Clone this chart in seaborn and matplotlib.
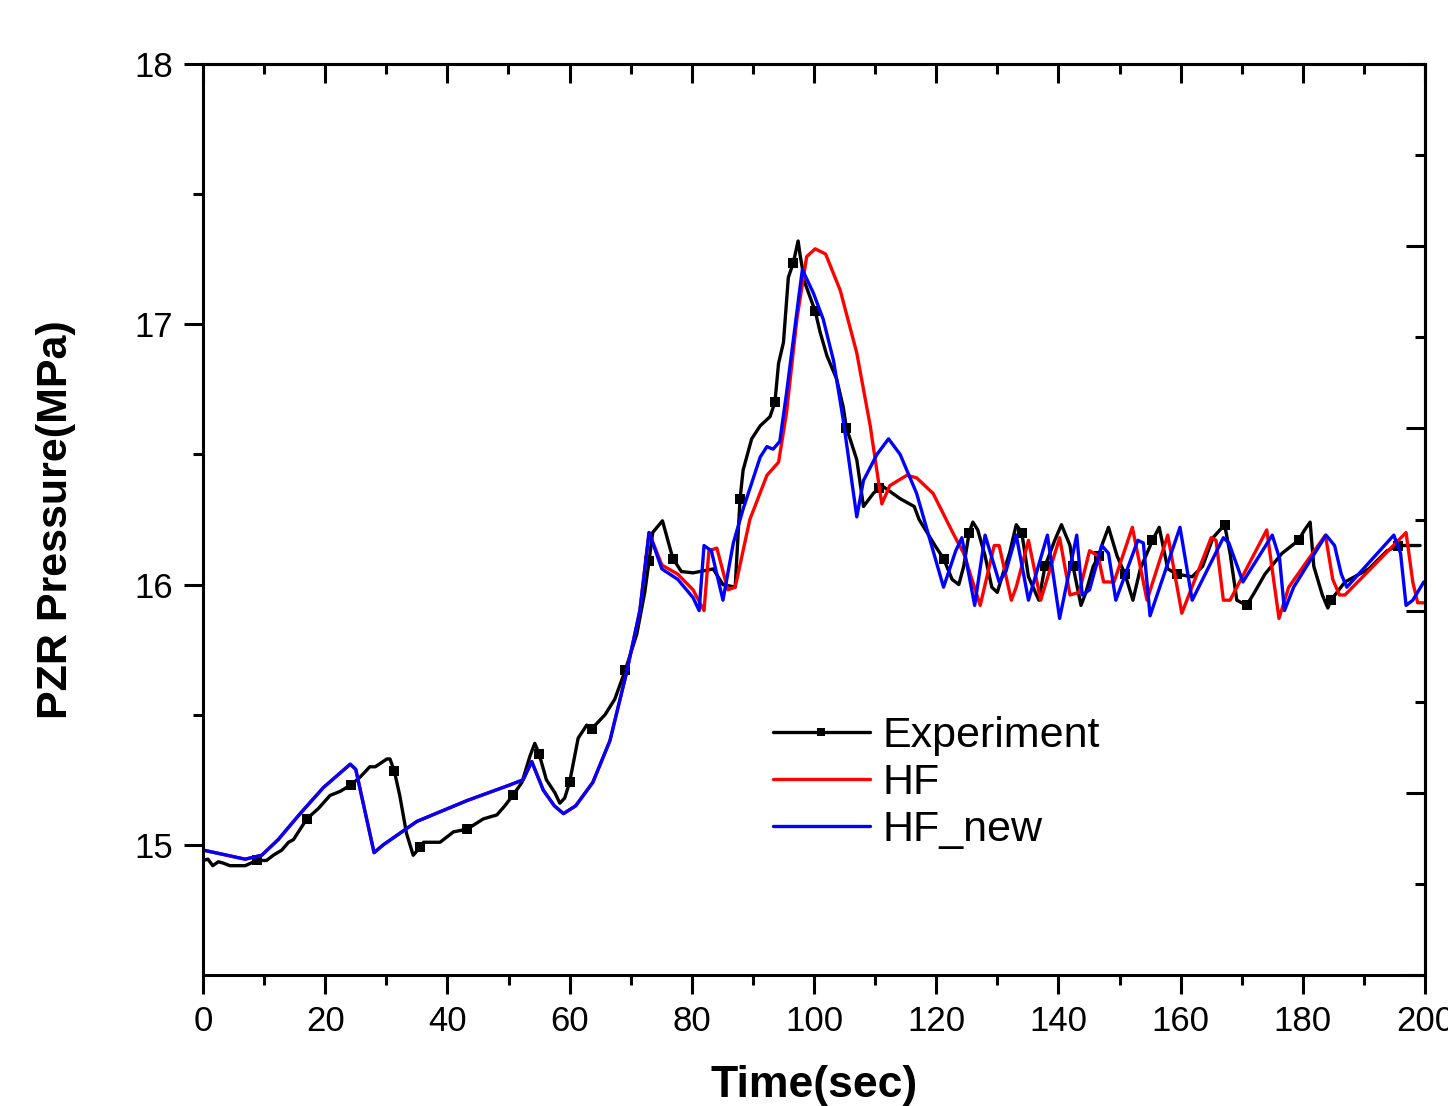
import numpy as np
import pandas as pd
import seaborn as sns
import matplotlib.pyplot as plt
from matplotlib.ticker import MultipleLocator, FixedLocator

# experiment data (time s, pressure MPa)
exp_t = [0, 0.8, 1.6, 2.5, 3.3, 4.4, 6.9, 8.8, 10.4, 11.5, 12.9, 14.0, 14.8, 15.9, 17.0, 18.9,
         20.8, 22.4, 24.2, 25.7, 27.3, 28.2, 30.1, 30.6, 31.3, 32.2, 33.3, 34.4, 35.5, 36.1,
         38.8, 41.0, 43.2, 45.9, 48.1, 49.4, 50.7, 52.2, 53.5, 54.3, 55.0, 56.2, 57.6, 58.4,
         59.2, 60.0, 61.4, 62.8, 63.6, 65.8, 67.4, 69.1, 71.0, 72.3, 73.0, 73.6, 75.2, 76.9,
         78.3, 80.2, 83.5, 85.1, 87.1, 87.9, 88.4, 89.8, 91.2, 92.8, 93.6, 94.2, 95.0, 95.8,
         96.6, 97.4, 97.7, 98.5, 100.2, 101.0, 102.1, 103.7, 104.8, 105.3, 105.9, 107.0, 108.1,
         109.7, 110.6, 111.1, 114.1, 116.4, 117.2, 119.8, 121.2, 122.6, 123.7, 124.5, 125.4,
         126.0, 126.8, 128.0, 129.1, 130.0, 130.9, 132.0, 133.1, 134.0, 135.1, 136.8, 137.8,
         139.4, 140.5, 141.9, 142.4, 143.7, 144.5, 145.7, 146.6, 147.1, 148.2, 149.6, 150.9,
         152.2, 153.4, 155.4, 156.5, 157.9, 159.4, 161.9, 163.6, 165.3, 167.2, 168.1, 169.2,
         170.8, 172.1, 173.8, 176.6, 179.3, 180.3, 181.2, 181.8, 183.2, 184.1, 184.6, 186.9,
         190.8, 193.8, 195.6, 199.2]
exp_p = [14.94, 14.945, 14.92, 14.935, 14.93, 14.92, 14.92, 14.94, 14.94, 14.96, 14.98, 15.01,
         15.02, 15.06, 15.10, 15.14, 15.19, 15.205, 15.23, 15.26, 15.30, 15.30, 15.33, 15.33,
         15.285, 15.19, 15.045, 14.96, 14.99, 15.01, 15.01, 15.05, 15.06, 15.10, 15.115, 15.15,
         15.19, 15.24, 15.34, 15.39, 15.35, 15.25, 15.20, 15.16, 15.18, 15.24, 15.41, 15.46,
         15.445, 15.50, 15.56, 15.67, 15.81, 15.97, 16.09, 16.20, 16.245, 16.10, 16.05, 16.045,
         16.06, 16.00, 15.99, 16.33, 16.44, 16.56, 16.61, 16.645, 16.70, 16.85, 16.93, 17.18,
         17.235, 17.32, 17.27, 17.16, 17.05, 16.97, 16.88, 16.79, 16.68, 16.60, 16.56, 16.48,
         16.30, 16.35, 16.37, 16.38, 16.33, 16.30, 16.25, 16.15, 16.10, 16.02, 16.00, 16.07,
         16.20, 16.24, 16.21, 16.11, 15.99, 15.97, 16.04, 16.12, 16.23, 16.20, 16.03, 15.94,
         16.07, 16.17, 16.23, 16.15, 16.07, 15.92, 15.97, 16.07, 16.11, 16.15, 16.22, 16.11,
         16.04, 15.94, 16.06, 16.17, 16.22, 16.06, 16.04, 16.03, 16.07, 16.18, 16.23, 16.12,
         15.94, 15.92, 15.97, 16.04, 16.12, 16.17, 16.21, 16.24, 16.07, 15.96, 15.91, 15.94,
         16.01, 16.06, 16.13, 16.15, 16.15]
exp_marker_t = [8.8, 17.0, 24.2, 31.3, 35.5, 43.2, 50.7, 55.0, 60.0, 63.6, 69.1, 73.0, 76.9,
                87.9, 93.6, 96.6, 100.2, 105.3, 110.6, 121.2, 125.4, 134.0, 137.8, 142.4,
                146.6, 150.9, 155.4, 159.4, 167.2, 170.8, 179.3, 184.6, 195.6]

# both models agree up to ~73 s
common_t = [0, 6.9, 9.6, 12.3, 15.9, 19.7, 24.1, 25.0, 28.0, 29.5, 35.0, 43.2, 50.2, 52.4,
            53.8, 55.7, 57.5, 59.0, 61.0, 63.8, 66.6, 69.3, 71.5, 73.0]
common_p = [14.98, 14.945, 14.96, 15.02, 15.12, 15.22, 15.31, 15.29, 14.97, 15.00, 15.09,
            15.17, 15.23, 15.25, 15.32, 15.21, 15.15, 15.12, 15.15, 15.24, 15.40, 15.66,
            15.90, 16.20]

hf_t = [75.1, 77.7, 80.2, 82.0, 82.8, 84.1, 85.9, 87.1, 89.5, 92.3, 94.2, 95.5, 97.2, 98.8,
        100.2, 101.9, 104.3, 107.0, 109.2, 111.1, 112.4, 115.2, 116.8, 119.5, 122.7, 124.5,
        127.2, 129.5, 130.3, 132.3, 133.1, 135.1, 137.1, 140.2, 141.9, 143.4, 145.1, 146.5,
        147.4, 149.1, 152.1, 154.5, 157.9, 160.2, 165.0, 165.8, 167.0, 168.1, 174.1, 176.1,
        177.7, 183.7, 184.9, 186.0, 186.9, 196.9, 198.0, 198.8, 200.0]
hf_p = [16.075, 16.04, 15.98, 15.90, 16.13, 16.14, 15.98, 15.99, 16.25, 16.42, 16.47, 16.66,
        17.02, 17.26, 17.29, 17.27, 17.13, 16.89, 16.61, 16.31, 16.38, 16.42, 16.41, 16.35,
        16.20, 16.12, 15.92, 16.15, 16.15, 15.94, 15.99, 16.17, 15.94, 16.18, 15.96, 15.97,
        16.13, 16.11, 16.01, 16.01, 16.22, 15.94, 16.19, 15.89, 16.18, 16.17, 15.94, 15.94,
        16.21, 15.87, 15.99, 16.19, 16.02, 15.96, 15.96, 16.20, 16.01, 15.93, 15.93]

hfnew_t = [75.1, 77.7, 80.2, 81.2, 82.0, 83.2, 85.1, 86.8, 88.4, 91.2, 92.3, 93.3, 94.4, 95.5,
           97.7, 98.1, 99.9, 101.5, 103.2, 104.8, 107.0, 108.1, 110.3, 112.2, 114.1, 116.8,
           121.2, 123.2, 124.2, 126.3, 128.0, 130.3, 131.4, 133.1, 135.1, 138.2, 140.2, 143.0,
           143.9, 145.1, 147.1, 148.2, 149.4, 153.0, 153.9, 155.0, 159.9, 161.9, 167.0, 167.9,
           170.2, 175.0, 176.2, 177.0, 178.5, 183.8, 185.2, 186.3, 187.2, 194.9, 196.0, 196.9,
           198.0, 199.8]
hfnew_p = [16.06, 16.02, 15.95, 15.90, 16.15, 16.13, 15.94, 16.16, 16.29, 16.49, 16.53, 16.52,
           16.55, 16.735, 17.14, 17.21, 17.12, 17.02, 16.86, 16.63, 16.26, 16.40, 16.50, 16.56,
           16.50, 16.35, 15.99, 16.13, 16.18, 15.92, 16.19, 16.01, 16.05, 16.19, 15.94, 16.19,
           15.87, 16.19, 15.96, 15.98, 16.15, 16.12, 15.94, 16.17, 16.16, 15.88, 16.22, 15.94,
           16.18, 16.16, 16.01, 16.19, 16.10, 15.90, 15.99, 16.19, 16.15, 16.04, 15.99, 16.19,
           16.12, 15.92, 15.94, 16.01]

sns.set_style("ticks")
plt.rcParams['font.family'] = ['Liberation Sans', 'DejaVu Sans']
plt.rcParams['text.color'] = 'black'
plt.rcParams['axes.labelcolor'] = 'black'
plt.rcParams['axes.edgecolor'] = 'black'
plt.rcParams['xtick.color'] = 'black'
plt.rcParams['ytick.color'] = 'black'

fig = plt.figure(figsize=(14.48, 11.06), dpi=100)
ax = fig.add_axes([203/1448, 1-975/1106, 1222/1448, 911/1106])

exp_df = pd.DataFrame({"t": exp_t, "p": exp_p})
hf_df = pd.DataFrame({"t": common_t + hf_t, "p": common_p + hf_p})
new_df = pd.DataFrame({"t": common_t + hfnew_t, "p": common_p + hfnew_p})
marks = [exp_t.index(m) for m in exp_marker_t]

lw = 2.4
sns.lineplot(data=exp_df, x="t", y="p", ax=ax, color="black", lw=lw, sort=False,
             estimator=None, marker="s", markersize=7.5, markevery=marks,
             markeredgewidth=0, label="Experiment")
sns.lineplot(data=hf_df, x="t", y="p", ax=ax, color="#ff0000", lw=lw, sort=False,
             estimator=None, label="HF")
sns.lineplot(data=new_df, x="t", y="p", ax=ax, color="#0000ff", lw=lw, sort=False,
             estimator=None, label="HF_new")

ax.set_xlim(0, 200)
ax.set_ylim(14.5, 18)
ax.xaxis.set_major_locator(MultipleLocator(20))
ax.xaxis.set_minor_locator(MultipleLocator(10))
ax.yaxis.set_major_locator(FixedLocator([15, 16, 17, 18]))
ax.yaxis.set_minor_locator(FixedLocator([15.5, 16.5, 17.5]))
ax.tick_params(which="major", direction="out", length=13.5, width=2.2, labelsize=25, pad=8)
ax.tick_params(which="minor", direction="out", length=7, width=2.2)
for s in ax.spines.values():
    s.set_linewidth(2.2)
    s.set_visible(True)

top = ax.secondary_xaxis("top")
top.xaxis.set_major_locator(MultipleLocator(20))
top.xaxis.set_minor_locator(MultipleLocator(10))
top.tick_params(which="major", direction="in", length=13.5, width=2.2, labeltop=False)
top.tick_params(which="minor", direction="in", length=7, width=2.2)
top.spines["top"].set_linewidth(2.2)

right = ax.secondary_yaxis("right")
right.yaxis.set_major_locator(FixedLocator([14.5, 15.2, 15.9, 16.6, 17.3, 18.0]))
right.yaxis.set_minor_locator(FixedLocator([14.85, 15.55, 16.25, 16.95, 17.65]))
right.tick_params(which="major", direction="in", length=13.5, width=2.2, labelright=False)
right.tick_params(which="minor", direction="in", length=7, width=2.2)
right.spines["right"].set_linewidth(2.2)

ax.set_xlabel("Time(sec)", fontsize=32, fontweight="bold")
ax.set_ylabel("PZR Pressure(MPa)", fontsize=31, fontweight="bold")
ax.xaxis.set_label_coords(0.5, -0.099)
ax.yaxis.set_label_coords(-0.104, 0.5)

ax.legend(loc="center left", bbox_to_anchor=(773/1448, 1-783/1106),
          bbox_transform=fig.transFigure, frameon=False, fontsize=31,
          handlelength=2.25, handletextpad=0.3, labelspacing=0.17, borderpad=0,
          borderaxespad=0, markerscale=0.75)

fig.savefig("out.png", dpi=100)
